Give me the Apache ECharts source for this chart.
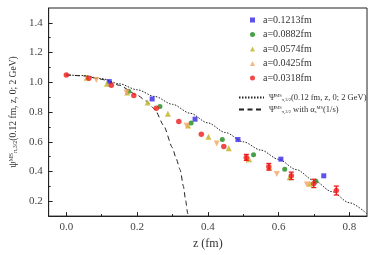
<!DOCTYPE html>
<html><head><meta charset="utf-8">
<script src="https://cdn.jsdelivr.net/npm/echarts@6/dist/echarts.min.js"></script>
<style>html,body{margin:0;padding:0;background:#fff}#c{width:374px;height:255px}</style>
</head><body><div id="c"></div>
<script>
// ---- tick values ----
const xMajorTicks = [0, 0.2, 0.4, 0.6, 0.8];
const xMinorTicks = [0.1, 0.3, 0.5, 0.7];
const yMajorTicks = [0.2, 0.4, 0.6, 0.8, 1.0, 1.2, 1.4];
const yMinorTicks = [0.3, 0.5, 0.7, 0.9, 1.1, 1.3];

// ---- series names ----
const seriesNames = ['a=0.1213fm', 'a=0.0882fm', 'a=0.0574fm', 'a=0.0425fm', 'a=0.0318fm'];
const lineName1 = 'Ψ MS π,3/2 (0.12 fm, z, 0; 2 GeV)';
const lineName2 = 'Ψ MS π,3/2 with αs MS (1/s)';

// ---- data: a = 0.1213 fm ----
const blueZ = [0.1213, 0.2426, 0.3639, 0.4852, 0.6065, 0.7278];
const blueV = [1.005, 0.888, 0.752, 0.615, 0.483, 0.371];
// a = 0.0882 fm
const greenZ = [0.1764, 0.2646, 0.3528, 0.4410, 0.5292, 0.6174, 0.7056];
const greenV = [0.940, 0.838, 0.726, 0.615, 0.512, 0.416, 0.334];
// a = 0.0574 fm
const yellowZ = [0.0574, 0.1148, 0.1722, 0.2296, 0.2870, 0.3444, 0.4018, 0.4592, 0.5166, 0.5740, 0.6314, 0.6888];
const yellowV = [1.030, 0.991, 0.932, 0.864, 0.789, 0.710, 0.633, 0.557, 0.483, 0.425, 0.361, 0.318];
// a = 0.0425 fm
const orangeZ = [0.0850, 0.1700, 0.3400, 0.4250, 0.5100, 0.5950, 0.6800];
const orangeV = [1.015, 0.933, 0.707, 0.589, 0.474, 0.384, 0.312];
// a = 0.0318 fm
const redZ = [0, 0.0636, 0.1272, 0.1908, 0.2544, 0.3180, 0.3816, 0.4452, 0.5088, 0.5724, 0.6360, 0.6996, 0.7632];
const redV = [1.049, 1.027, 0.980, 0.912, 0.826, 0.736, 0.650, 0.569, 0.495, 0.432, 0.371, 0.320, 0.272];
const redErr = [0, 0, 0, 0, 0, 0, 0, 0, 0.020, 0.022, 0.025, 0.028, 0.030];

// ---- curves ----
const dotZ = [0, 0.05, 0.10, 0.15, 0.20, 0.25, 0.30, 0.35, 0.40, 0.45, 0.50, 0.55, 0.60, 0.65, 0.70, 0.75, 0.80, 0.85];
const dotV = [1.050, 1.045, 1.025, 0.990, 0.950, 0.905, 0.852, 0.792, 0.727, 0.662, 0.600, 0.544, 0.482, 0.413, 0.340, 0.265, 0.190, 0.115];
const dashZ = [0, 0.05, 0.10, 0.15, 0.20, 0.225, 0.25, 0.275, 0.30, 0.31, 0.322, 0.331, 0.337, 0.343, 0.346];
const dashV = [1.050, 1.043, 1.020, 0.980, 0.915, 0.875, 0.820, 0.710, 0.560, 0.490, 0.410, 0.300, 0.210, 0.120, 0.080];

const colors = ['#3326e6', '#1a8a1a', '#c2b020', '#f5a468', '#ee1c1c'];
const zip = (a, b) => a.map((v, i) => [v, b[i]]);
const FONT = "'Liberation Serif', 'DejaVu Serif', serif";

const chart = echarts.init(document.getElementById('c'), null, {renderer: 'canvas'});

const richStyles = {
  g: {fontFamily: FONT, fontSize: 8.5, color: '#333'},
  sup: {fontFamily: FONT, fontSize: 4.5, color: '#333', verticalAlign: 'top'},
  sub: {fontFamily: FONT, fontSize: 4.5, color: '#333', verticalAlign: 'bottom'},
  t: {fontFamily: FONT, fontSize: 8.5, color: '#333'},
  m: {fontFamily: FONT, fontSize: 10, color: '#333', padding: [0, 0, 0, 3]}
};
const yNameRich = {
  g: {fontFamily: FONT, fontSize: 10, color: '#333'},
  sup: {fontFamily: FONT, fontSize: 6, color: '#333', verticalAlign: 'top'},
  sub: {fontFamily: FONT, fontSize: 6, color: '#333', verticalAlign: 'bottom'},
  t: {fontFamily: FONT, fontSize: 9.5, color: '#333'}
};

const option = {
  animation: false,
  backgroundColor: '#fff',
  grid: {left: 48, right: 7, top: 8, bottom: 37, show: true, borderColor: '#222', borderWidth: 1, backgroundColor: 'transparent'},
  xAxis: [{
    type: 'value', min: -0.05, max: 0.85, interval: 0.05,
    axisLine: {show: true, onZero: false, lineStyle: {color: '#222', width: 1}},
    axisTick: {show: true, inside: true, length: 4, customValues: xMajorTicks, lineStyle: {color: '#222'}},
    axisLabel: {customValues: xMajorTicks, formatter: v => v.toFixed(1), fontFamily: FONT, fontSize: 11, color: '#444', margin: 6},
    splitLine: {show: false},
    name: 'z (fm)', nameLocation: 'middle', nameGap: 21,
    nameTextStyle: {fontFamily: FONT, fontSize: 12, color: '#333'}
  }, {
    type: 'value', min: -0.05, max: 0.85, interval: 0.05, position: 'bottom',
    axisLine: {show: false, onZero: false},
    axisTick: {show: true, inside: true, length: 2, customValues: xMinorTicks, lineStyle: {color: '#222'}},
    axisLabel: {show: false}, splitLine: {show: false}
  }],
  yAxis: [{
    type: 'value', min: 0.1, max: 1.5, interval: 0.1,
    axisLine: {show: true, onZero: false, lineStyle: {color: '#222', width: 1}},
    axisTick: {show: true, inside: true, length: 4, customValues: yMajorTicks, lineStyle: {color: '#222'}},
    axisLabel: {customValues: yMajorTicks, formatter: v => v.toFixed(1), fontFamily: FONT, fontSize: 11, color: '#444', margin: 6},
    splitLine: {show: false},
    name: '{g|ψ}{sup|MS}{sub|π,3/2}{t|(0.12 fm, z, 0; 2 GeV)}',
    nameLocation: 'middle', nameGap: 30, nameRotate: 90,
    nameTextStyle: {fontFamily: FONT, fontSize: 9.5, color: '#333', rich: yNameRich}
  }, {
    type: 'value', min: 0.1, max: 1.5, interval: 0.1, position: 'left',
    axisLine: {show: false, onZero: false},
    axisTick: {show: true, inside: true, length: 2, customValues: yMinorTicks, lineStyle: {color: '#222'}},
    axisLabel: {show: false}, splitLine: {show: false}
  }],
  legend: [{
    orient: 'vertical', left: 245, top: 10, itemWidth: 5, itemHeight: 5, itemGap: 4.5,
    data: seriesNames,
    formatter: name => '{m|' + name + '}',
    textStyle: {fontFamily: FONT, fontSize: 10, color: '#333', rich: richStyles}
  }, {
    orient: 'vertical', left: 233, top: 88, itemWidth: 25, itemHeight: 6, itemGap: 3,
    data: [lineName1, lineName2],
    formatter: name => {
      if (name === lineName1) return '{g|Ψ}{sup|MS}{sub|π,3/2}{t|(0.12 fm, z, 0; 2 GeV)}';
      return '{g|Ψ}{sup|MS}{sub|π,3/2}{t| with α}{sub|s}{sup|MS}{t|(1/s)}';
    },
    textStyle: {fontFamily: FONT, fontSize: 8.5, color: '#333', rich: richStyles}
  }],
  series: [
    {name: lineName1, type: 'line', data: zip(dotZ, dotV), showSymbol: false, symbol: 'circle', smooth: 0.3, smoothMonotone: 'x',
      lineStyle: {color: '#222', width: 1, type: [1.5, 1.5]}, itemStyle: {color: 'rgba(0,0,0,0)'}, z: 2},
    {name: lineName2, type: 'line', data: zip(dashZ, dashV), showSymbol: false, symbol: 'circle', smooth: 0.2, smoothMonotone: 'x',
      lineStyle: {color: '#222', width: 1, type: [5, 3.5]}, itemStyle: {color: 'rgba(0,0,0,0)'}, z: 2},
    {name: seriesNames[0], type: 'scatter', data: zip(blueZ, blueV), symbol: 'rect', symbolSize: 5, itemStyle: {color: colors[0]}, z: 3},
    {name: seriesNames[1], type: 'scatter', data: zip(greenZ, greenV), symbol: 'circle', symbolSize: 5, itemStyle: {color: colors[1]}, z: 3},
    {name: seriesNames[2], type: 'scatter', data: zip(yellowZ, yellowV), symbol: 'triangle', symbolSize: 6, itemStyle: {color: colors[2]}, z: 3},
    {name: seriesNames[3], type: 'scatter', data: zip(orangeZ, orangeV), symbol: 'triangle', symbolRotate: 180, symbolSize: 6, itemStyle: {color: colors[3]}, z: 3},
    {name: seriesNames[4], type: 'scatter', data: zip(redZ, redV), symbol: 'circle', symbolSize: 5.5, itemStyle: {color: colors[4]}, z: 4},
    {name: 'err', type: 'custom', z: 5,
      data: redZ.map((z, i) => [z, redV[i], redErr[i]]).filter(d => d[2] > 0),
      renderItem: (params, api) => {
        const x = api.value(0), y = api.value(1), e = api.value(2);
        const top = api.coord([x, y + e]), bot = api.coord([x, y - e]);
        const hw = 2.5, st = {stroke: colors[4], lineWidth: 1.3};
        return {type: 'group', children: [
          {type: 'line', shape: {x1: top[0], y1: top[1], x2: bot[0], y2: bot[1]}, style: st},
          {type: 'line', shape: {x1: top[0] - hw, y1: top[1], x2: top[0] + hw, y2: top[1]}, style: st},
          {type: 'line', shape: {x1: bot[0] - hw, y1: bot[1], x2: bot[0] + hw, y2: bot[1]}, style: st}
        ]};
      }
    }
  ]
};
chart.setOption(option);
</script>
</body></html>
